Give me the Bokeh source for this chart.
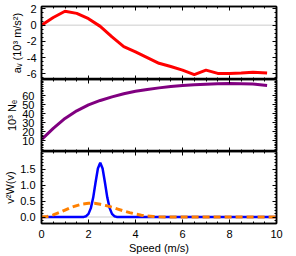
from bokeh.plotting import figure
from bokeh.layouts import column
from bokeh.models import LinearAxis, Range1d, Span, FixedTicker, CustomLabelingPolicy
from bokeh.embed import file_html
from bokeh.resources import INLINE

# ---- data ----
speed_a = [0.0, 0.5, 1.0, 1.5, 2.0, 2.5, 3.0, 3.5, 4.0, 4.5, 5.0, 5.5, 6.0, 6.5, 7.0, 7.5, 8.0, 8.5, 9.0, 9.6]
accel = [0.0, 0.95, 1.72, 1.45, 0.8, -0.15, -1.45, -2.65, -3.3, -4.0, -4.7, -5.1, -5.55, -6.1, -5.55, -5.95, -5.95, -5.9, -5.8, -5.9]

speed_n = [0.0, 0.5, 1.0, 1.5, 2.0, 2.5, 3.0, 3.5, 4.0, 4.5, 5.0, 5.5, 6.0, 6.5, 7.0, 7.5, 8.0, 8.5, 9.0, 9.6]
ne = [11.0, 23.5, 34.5, 43.0, 49.6, 54.5, 58.5, 62.0, 64.7, 66.8, 68.5, 70.0, 71.0, 71.9, 72.6, 73.1, 73.4, 73.2, 72.7, 71.2]

speed_blue = [0.0, 1.7, 1.8, 1.9, 2.0, 2.1, 2.2, 2.3, 2.4, 2.5, 2.6, 2.7, 2.8, 2.9, 3.0, 3.1, 3.2, 3.3, 10.0]
w_blue = [0.0, 0.0, 0.006, 0.028, 0.10, 0.28, 0.61, 1.08, 1.52, 1.70, 1.52, 1.08, 0.61, 0.28, 0.10, 0.028, 0.006, 0.0, 0.0]

speed_orange = [0.0, 0.25, 0.5, 0.75, 1.0, 1.25, 1.5, 1.75, 2.0, 2.25, 2.5, 2.75, 3.0, 3.25, 3.5, 3.75, 4.0, 4.25, 4.5, 4.75, 5.0, 5.5, 6.0, 10.0]
w_orange = [0.0, 0.02, 0.07, 0.14, 0.22, 0.30, 0.36, 0.41, 0.43, 0.43, 0.40, 0.36, 0.31, 0.25, 0.19, 0.14, 0.095, 0.06, 0.035, 0.02, 0.01, 0.002, 0.0, 0.0]

x_ticks = [0, 2, 4, 6, 8, 10]
x_minor = [i * 0.5 for i in range(21)]
a_ticks = [-6, -4, -2, 0, 2]
a_minor = [-6.5 + i * 0.5 for i in range(18)]
ne_ticks = [10, 20, 30, 40, 50, 60]
ne_minor = [i * 2 for i in range(39)]
w_ticks = [0.0, 0.5, 1.0, 1.5]
w_minor = [round(-0.2 + i * 0.1, 1) for i in range(23)]

FONT = "Liberation Sans"
x_range = Range1d(0, 10)


def style_axis(ax, labels=True):
    ax.major_tick_in = 4
    ax.major_tick_out = 0
    ax.minor_tick_in = 2
    ax.minor_tick_out = 0
    ax.axis_line_color = "black"
    ax.axis_line_width = 1.5
    ax.major_tick_line_color = "black"
    ax.minor_tick_line_color = "black"
    ax.major_label_text_font = FONT
    ax.major_label_text_font_size = "11px"
    ax.major_label_text_color = "black"
    ax.axis_label_text_font = FONT
    ax.axis_label_text_font_size = "11px"
    ax.axis_label_text_font_style = "normal"
    ax.axis_label_text_color = "black"
    if labels:
        ax.major_label_standoff = 6
        ax.axis_label_standoff = 1
    else:
        ax.major_label_text_font_size = "0px"
        ax.major_label_standoff = 0
        ax.major_label_policy = CustomLabelingPolicy(code="return new Set()")
        ax.axis_label = None


def make_panel(height, yr, yticks, yminor, ylabel, top, bottom, xlabels=False):
    p = figure(width=296, height=height, x_range=x_range, y_range=Range1d(*yr),
               output_backend="svg", toolbar_location=None,
               min_border_left=41, min_border_right=20,
               min_border_top=top, min_border_bottom=bottom)
    p.xgrid.visible = False
    p.ygrid.visible = False
    p.outline_line_color = "black"
    p.outline_line_width = 1.5
    p.background_fill_color = "white"
    p.border_fill_color = "white"
    xt = FixedTicker(ticks=x_ticks, minor_ticks=x_minor)
    yt = FixedTicker(ticks=yticks, minor_ticks=yminor)
    p.xaxis[0].ticker = xt
    p.yaxis[0].ticker = yt
    style_axis(p.yaxis[0], True)
    p.yaxis[0].axis_label = ylabel
    style_axis(p.xaxis[0], xlabels)
    if xlabels:
        p.xaxis[0].axis_label = "Speed (m/s)"
    ax_top = LinearAxis(ticker=xt)
    style_axis(ax_top, False)
    p.add_layout(ax_top, "above")
    ax_right = LinearAxis(ticker=yt)
    style_axis(ax_right, False)
    p.add_layout(ax_right, "right")
    return p


p1 = make_panel(79, (-6.7, 2.3), a_ticks, a_minor, "aᵥ (10³ m/s²)", 6, 0)
p1.yaxis[0].major_label_overrides = {-6: "-6", -4: "-4", -2: "-2", 0: "0", 2: "2"}
p1.yaxis[0].major_label_standoff = 5
p1.add_layout(Span(location=0, dimension="width", line_color="#cccccc", line_width=1, level="underlay"))
p1.line(speed_a, accel, line_color="#ff0000", line_width=3)

p2 = make_panel(72, (-2.2, 77.8), ne_ticks, ne_minor, "10³ Nₑ", 0, 0)
p2.yaxis[0].major_label_standoff = 7
p2.line(speed_n, ne, line_color="#800080", line_width=3)

p3 = make_panel(105, (-0.2, 2.05), w_ticks, w_minor, "v²W(v)", 0, 33, xlabels=True)
p3.yaxis[0].major_label_overrides = {0.0: "0.0", 0.5: "0.5", 1.0: "1.0", 1.5: "1.5"}
p3.add_layout(Span(location=0, dimension="width", line_color="#dddddd", line_width=1.5, level="underlay"))
p3.line(speed_blue, w_blue, line_color="#0000ff", line_width=2.5)
p3.line(speed_orange, w_orange, line_color="#ff8000", line_width=3, line_dash="7 4")

layout = column(p1, p2, p3, spacing=0)

open("out.html", "w").write(file_html(layout, INLINE))
